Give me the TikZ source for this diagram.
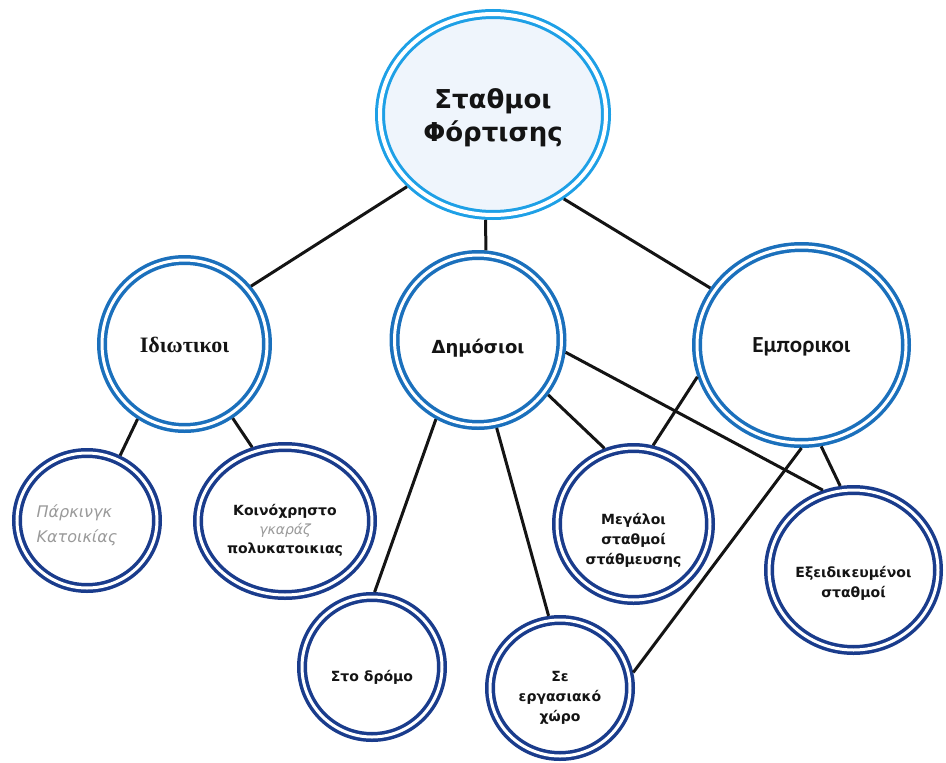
\documentclass[tikz,border=0pt]{standalone}
\usepackage{fontspec}
\setmainfont{DejaVu Sans}
\newfontfamily\serifbold{Liberation Serif}
\newfontfamily\carlfont{Carlito}
\usetikzlibrary{shapes.geometric}
\definecolor{ringtop}{HTML}{1EA0E6}
\definecolor{ringmid}{HTML}{1B70BC}
\definecolor{ringlow}{HTML}{1A3C8C}
\definecolor{filltop}{HTML}{EFF5FC}
\definecolor{greytext}{HTML}{9A9A9A}
\definecolor{inkdark}{HTML}{141414}
\tikzset{
  bubble/.style={ellipse, line width=3.5pt, double=white, double distance=3pt,
    outer sep=5pt, inner sep=0pt, fill=white},
  topbubble/.style={bubble, draw=ringtop, fill=filltop, line width=3pt, double distance=4pt},
  midbubble/.style={bubble, draw=ringmid},
  lowbubble/.style={bubble, draw=ringlow},
  link/.style={line width=3pt, draw=inkdark},
  toplbl/.style={align=center, text=inkdark, font=\fontsize{26}{33}\selectfont\bfseries},
  midlbl/.style={align=center, text=inkdark, font=\fontsize{18}{22}\selectfont\bfseries},
  lowlbl/.style={align=center, text=inkdark, font=\fontsize{14}{20}\selectfont\bfseries},
  greylbl/.style={align=left, text=greytext, font=\fontsize{16}{25}\selectfont\itshape}
}
\begin{document}
\begin{tikzpicture}[x=1pt,y=-1pt]
\useasboundingbox (0,0) rectangle (946,763);
% main nodes
\node[topbubble, minimum width=226pt, minimum height=201pt,
  label={[toplbl, yshift=-3pt]center:Σταθμοι\\Φόρτισης}] (T) at (493,114.5) {};
\node[midbubble, minimum width=165pt, minimum height=168pt,
  label={[midlbl, font=\fontsize{22}{26}\serifbold\bfseries, yshift=-1pt]center:Ιδιωτικοι}] (I) at (184.5,344) {};
\node[midbubble, minimum width=167pt, minimum height=170pt,
  label={[midlbl, yshift=-8pt]center:Δημόσιοι}] (D) at (478,340) {};
\node[midbubble, minimum width=209pt, minimum height=196pt,
  label={[midlbl, font=\fontsize{23}{27}\carlfont\bfseries, yshift=-2pt]center:Εμπορικοι}] (E) at (801.5,345) {};
% lower nodes
\node[lowbubble, minimum width=140pt, minimum height=135pt,
  label={[greylbl, xshift=-10pt, yshift=-5pt]center:Πάρκινγκ\\Κατοικίας}] (P) at (87,520.5) {};
\node[lowbubble, minimum width=174pt, minimum height=148pt,
  label={[lowlbl, font=\fontsize{14}{19}\selectfont\bfseries, yshift=-9pt]center:Κοινόχρηστο\\{\color{greytext}\mdseries\itshape γκαράζ}\\πολυκατοικιας}] (K) at (285,521) {};
\node[lowbubble, minimum width=153pt, minimum height=152pt,
  label={[lowlbl, yshift=-16pt]center:Μεγάλοι\\σταθμοί\\στάθμευσης}] (M) at (633.5,524) {};
\node[lowbubble, minimum width=169pt, minimum height=160pt,
  label={[lowlbl, yshift=-13pt]center:Εξειδικευμένοι\\σταθμοί}] (X) at (853.5,570) {};
\node[lowbubble, minimum width=140pt, minimum height=140pt,
  label={[lowlbl, yshift=-10pt]center:Στο δρόμο}] (S) at (372,667) {};
\node[lowbubble, minimum width=140pt, minimum height=136pt,
  label={[lowlbl, yshift=-10pt]center:Σε\\εργασιακό\\χώρο}] (W) at (560,688) {};
% connectors
\draw[link] (T.220) -- (I.41);
\draw[link] (T.266) -- (D.85);
\draw[link] (T.310) -- (E.148);
\draw[link] (I.238) -- (P.63);
\draw[link] (I.303) -- (K.114);
\draw[link] (D.242) -- (S.88);
\draw[link] (D.282) -- (W.99);
\draw[link] (D.322) -- (M.111);
\draw[link] (D.352) -- (X.111);
\draw[link] (E.197) -- (M.76);
\draw[link] (E.281) -- (X.99);
\draw[link] (E.270) -- (W.12);
\end{tikzpicture}
\end{document}
